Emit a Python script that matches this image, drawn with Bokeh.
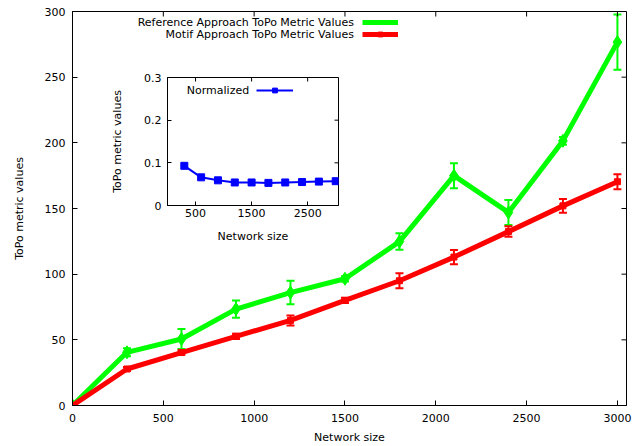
import math
from bokeh.plotting import figure
from bokeh.models import (Range1d, FixedTicker, Legend, LegendItem, Label)
from bokeh.layouts import column
from bokeh.embed import file_html
from bokeh.resources import INLINE

# ---- data ----
sizes = [0, 300, 600, 900, 1200, 1500, 1800, 2100, 2400, 2700, 3000]
ref_vals = [0, 40.5, 50.6, 73.4, 86.0, 96.5, 124.8, 175.0, 147.0, 201.5, 276.7]
ref_err = [0, 3.0, 7.6, 6.6, 8.9, 2.0, 6.3, 9.5, 9.5, 3.0, 21.0]
motif_vals = [0, 27.8, 40.3, 52.7, 64.8, 80.0, 95.0, 113.0, 132.4, 152.0, 170.4]
motif_err = [0, 1.5, 1.5, 2.0, 3.8, 2.0, 5.7, 5.4, 4.0, 5.3, 5.7]

norm_sizes = [300, 600, 900, 1200, 1500, 1800, 2100, 2400, 2700, 3000]
norm_vals = [0.093, 0.066, 0.059, 0.054, 0.054, 0.053, 0.054, 0.055, 0.056, 0.057]

main_xticks = [0, 500, 1000, 1500, 2000, 2500, 3000]
main_yticks = [0, 50, 100, 150, 200, 250, 300]
inset_xticks = [500, 1500, 2500]
inset_yticks = [0, 0.1, 0.2, 0.3]

FONT = "DejaVu Sans"
FS = "11px"
GREEN = "#00ff00"
RED = "#ff0000"
BLUE = "#0000ff"

# both figures sit in one column, whose layout lines up their left/right borders,
# so they share the same left/right border widths
BORDER_L = 72
BORDER_R = 17


def style_axis(ax, ticks, tick_len):
    ax.ticker = FixedTicker(ticks=ticks)
    ax.major_tick_in = tick_len
    ax.major_tick_out = 0
    ax.minor_tick_in = 0
    ax.minor_tick_out = 0
    ax.axis_line_color = "black"
    ax.major_tick_line_color = "black"
    ax.major_label_text_font = FONT
    ax.major_label_text_font_size = FS
    ax.major_label_text_color = "black"
    ax.axis_label_text_font = FONT
    ax.axis_label_text_font_size = FS
    ax.axis_label_text_font_style = "normal"
    ax.axis_label_text_color = "black"


def mirror_ticks(fig, xticks, yticks, tick_len):
    # inward tick marks on the top and right edges (half of each dash is clipped by the frame)
    xr, yr = fig.x_range, fig.y_range
    fig.scatter(xticks, [yr.end] * len(xticks), marker="dash", angle=math.pi / 2,
                size=2 * tick_len, line_color="black", line_width=1)
    fig.scatter([xr.end] * len(yticks), yticks, marker="dash",
                size=2 * tick_len, line_color="black", line_width=1)


# ---- main figure ----
p = figure(width=643, height=446, x_range=Range1d(0, 3050), y_range=Range1d(0, 300),
           output_backend="svg", toolbar_location=None,
           min_border_left=BORDER_L, min_border_right=BORDER_R,
           min_border_top=11, min_border_bottom=40)
p.grid.visible = False
p.outline_line_color = "black"
p.outline_line_width = 1
p.background_fill_color = "white"
p.border_fill_color = "white"

style_axis(p.xaxis[0], main_xticks, 5)
style_axis(p.yaxis[0], main_yticks, 5)
p.xaxis[0].axis_label = "Network size"
p.yaxis[0].axis_label = "ToPo metric values"
p.xaxis[0].major_label_standoff = 8
p.xaxis[0].axis_label_standoff = 6
p.yaxis[0].major_label_standoff = 7
p.yaxis[0].axis_label_standoff = 16

ref_lo = [v - e for v, e in zip(ref_vals, ref_err)]
ref_hi = [v + e for v, e in zip(ref_vals, ref_err)]
mot_lo = [v - e for v, e in zip(motif_vals, motif_err)]
mot_hi = [v + e for v, e in zip(motif_vals, motif_err)]

# reference series (green)
g_line = p.line(sizes, ref_vals, line_color=GREEN, line_width=5)
p.segment(sizes, ref_lo, sizes, ref_hi, line_color=GREEN, line_width=2)
p.scatter(sizes, ref_lo, marker="dash", size=8, line_color=GREEN, line_width=2)
p.scatter(sizes, ref_hi, marker="dash", size=8, line_color=GREEN, line_width=2)
g_pts = p.scatter(sizes, ref_vals, marker="diamond", size=13, fill_color=GREEN, line_color=GREEN)

# motif series (red)
r_line = p.line(sizes, motif_vals, line_color=RED, line_width=5)
p.segment(sizes, mot_lo, sizes, mot_hi, line_color=RED, line_width=2)
p.scatter(sizes, mot_lo, marker="dash", size=8, line_color=RED, line_width=2)
p.scatter(sizes, mot_hi, marker="dash", size=8, line_color=RED, line_width=2)
r_pts = p.scatter(sizes, motif_vals, marker="square", size=6, fill_color=RED, line_color=RED)

mirror_ticks(p, main_xticks, main_yticks, 5)

legend = Legend(items=[LegendItem(label=" ", renderers=[g_line, g_pts]),
                       LegendItem(label=" ", renderers=[r_line, r_pts])],
                location=(290, 365), padding=0, spacing=0, margin=0,
                glyph_width=36, glyph_height=12, label_height=12, label_width=0,
                label_standoff=0, label_text_font_size="6px",
                border_line_color=None, background_fill_alpha=0)
p.add_layout(legend, "center")

for txt, yy in [("Reference Approach ToPo Metric Values", 382.7),
                ("Motif Approach ToPo Metric Values", 371.0)]:
    p.add_layout(Label(x=281.5, y=yy, x_units="screen", y_units="screen", text=txt,
                       text_align="right", text_baseline="middle",
                       text_font=FONT, text_font_size=FS, text_color="black"))

# ---- inset figure ----
q = figure(width=BORDER_L + 171 + BORDER_R, height=185,
           x_range=Range1d(0, 3050), y_range=Range1d(0, 0.3),
           output_backend="svg", toolbar_location=None,
           min_border_left=BORDER_L, min_border_right=BORDER_R,
           min_border_top=17, min_border_bottom=40)
q.grid.visible = False
q.outline_line_color = "black"
q.background_fill_color = "white"
q.border_fill_color = None
q.border_fill_alpha = 0

style_axis(q.xaxis[0], inset_xticks, 4)
style_axis(q.yaxis[0], inset_yticks, 4)
q.xaxis[0].axis_label = "Network size"
q.yaxis[0].axis_label = "ToPo metric values"
q.xaxis[0].major_label_standoff = 3
q.xaxis[0].axis_label_standoff = 10
q.yaxis[0].major_label_standoff = 6
q.yaxis[0].axis_label_standoff = 17

b_line = q.line(norm_sizes, norm_vals, line_color=BLUE, line_width=2)
b_pts = q.scatter(norm_sizes, norm_vals, marker="square", size=7, fill_color=BLUE, line_color=BLUE)

mirror_ticks(q, inset_xticks, inset_yticks, 4)

q_leg = Legend(items=[LegendItem(label=" ", renderers=[b_line, b_pts])],
               location=(89, 109), padding=0, spacing=0, margin=0,
               glyph_width=37, glyph_height=12, label_height=12, label_width=0,
               label_standoff=0, label_text_font_size="6px",
               border_line_color=None, background_fill_alpha=0)
q.add_layout(q_leg, "center")
q.add_layout(Label(x=81.7, y=115.3, x_units="screen", y_units="screen", text="Normalized",
                   text_align="right", text_baseline="middle",
                   text_font=FONT, text_font_size=FS, text_color="black"))

q.styles = {"position": "absolute", "left": f"{167 - BORDER_L}px", "top": "60px", "z-index": "5"}

root = column(p, q, spacing=0)
open("out.html", "w").write(file_html(root, INLINE))
